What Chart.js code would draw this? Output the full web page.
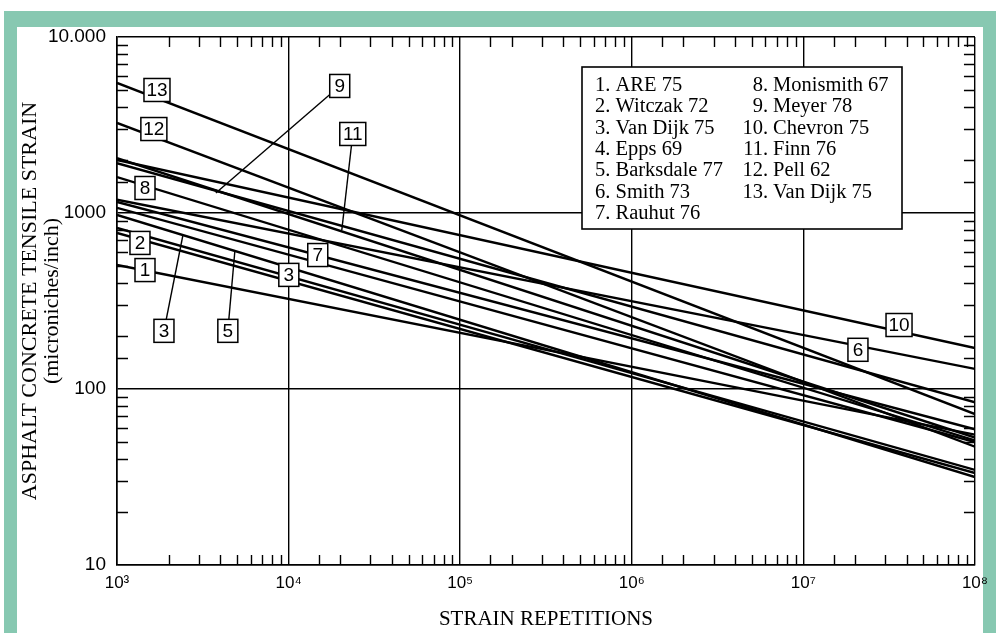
<!DOCTYPE html>
<html lang="en">
<head>
    <meta charset="UTF-8">
    <script src="https://cdn.jsdelivr.net/npm/chart.js"></script>
    <title>Asphalt fatigue curves</title>
    <style>
        body { margin: 0; background: #fff; }
        .frame { position: absolute; left: 4px; top: 11px; right: 0; bottom: 0; width: 992px; height: 622px; background: #87c8b1; }
        .inner { position: absolute; left: 13px; top: 16px; right: 13px; bottom: 0; background: #fff; }
        #fatigueChart { position: absolute; left: 0; top: 0; }
    </style>
</head>
<body>
<div class="frame"><div class="inner"></div></div>
<canvas id="fatigueChart" width="996" height="633"></canvas>

<script>
    // one straight (log-log) line per study, from 10^3 to 10^8 repetitions
    const seriesNames = ['ARE 75', 'Witczak 72', 'Van Dijk 75', 'Epps 69', 'Barksdale 77', 'Smith 73', 'Rauhut 76',
        'Monismith 67', 'Meyer 78', 'Chevron 75', 'Finn 76', 'Pell 62', 'Van Dijk 75'];
    const repetitions = [1e3, 1e8];
    const strainStart = [507, 770, 822, 1070, 975, 1190, 1155, 1600, 2050, 2000, 1920, 3250, 5480];
    const strainEnd = [55, 33.3, 34.7, 50, 31.6, 130, 59, 51, 53, 171, 84, 47, 72];

    const xTickLabels = ['10³', '10⁴', '10⁵', '10⁶', '10⁷', '10⁸'];
    const yTickLabels = ['10', '100', '1000', '10.000'];

    // numbered callouts (data coordinates), leader target where there is one
    const calloutNums = [13, 12, 8, 2, 1, 3, 5, 3, 7, 9, 11, 10, 6];
    const calloutX = [1710, 1640, 1456, 1361, 1456, 1878, 4425, 10030, 14790, 19860, 23660, 3.61e7, 2.08e7];
    const calloutY = [5000, 3000, 1387, 676, 474, 214, 214, 445, 577, 5270, 2812, 231, 167];
    const leaderX = [null, null, null, null, null, 2423, 4863, null, null, 3767, 20420, null, null];
    const leaderY = [null, null, null, null, null, 750, 608, null, null, 1300, 800, null, null];

    const isDecade = v => Math.abs(Math.log10(v) - Math.round(Math.log10(v))) < 1e-6;

    const minorTicks = {
        id: 'minorTicks',
        beforeDatasetsDraw(chart) {
            const {ctx, chartArea: a, scales: {x, y}} = chart;
            ctx.save();
            ctx.strokeStyle = '#000';
            ctx.lineWidth = 1.4;
            ctx.beginPath();
            x.ticks.forEach(t => {
                if (isDecade(t.value)) return;
                const px = Math.round(x.getPixelForValue(t.value)) + 0.5;
                ctx.moveTo(px, a.top); ctx.lineTo(px, a.top + 10);
                ctx.moveTo(px, a.bottom); ctx.lineTo(px, a.bottom - 10);
            });
            y.ticks.forEach(t => {
                if (isDecade(t.value)) return;
                const py = Math.round(y.getPixelForValue(t.value)) + 0.5;
                ctx.moveTo(a.left, py); ctx.lineTo(a.left + 11, py);
                ctx.moveTo(a.right, py); ctx.lineTo(a.right - 11, py);
            });
            ctx.stroke();
            ctx.restore();
        }
    };

    const callouts = {
        id: 'callouts',
        afterDatasetsDraw(chart) {
            const {ctx, chartArea: a, scales: {x, y}} = chart;
            ctx.save();
            ctx.strokeStyle = '#000';
            ctx.fillStyle = '#000';

            // leader lines first, boxes cover their inner part
            ctx.lineWidth = 1.4;
            calloutNums.forEach((n, i) => {
                if (leaderX[i] === null) return;
                ctx.beginPath();
                ctx.moveTo(x.getPixelForValue(calloutX[i]), y.getPixelForValue(calloutY[i]));
                ctx.lineTo(x.getPixelForValue(leaderX[i]), y.getPixelForValue(leaderY[i]));
                ctx.stroke();
            });

            ctx.font = '19px "Liberation Sans", Arial, sans-serif';
            ctx.textAlign = 'center';
            ctx.textBaseline = 'middle';
            calloutNums.forEach((n, i) => {
                const cx = x.getPixelForValue(calloutX[i]);
                const cy = y.getPixelForValue(calloutY[i]);
                const w = n > 9 ? 26 : 20, h = 23;
                ctx.fillStyle = '#fff';
                ctx.fillRect(cx - w / 2, cy - h / 2, w, h);
                ctx.lineWidth = 1.5;
                ctx.strokeRect(cx - w / 2, cy - h / 2, w, h);
                ctx.fillStyle = '#000';
                ctx.fillText(String(n), cx, cy + 1);
            });

            // legend box with two numbered columns
            const lx = a.left + 465, ly = a.top + 30, lw = 320, lh = 162;
            ctx.fillStyle = '#fff';
            ctx.fillRect(lx, ly, lw, lh);
            ctx.lineWidth = 1.6;
            ctx.strokeRect(lx, ly, lw, lh);
            ctx.fillStyle = '#000';
            ctx.font = '20.5px "Liberation Serif", "Times New Roman", serif';
            ctx.textBaseline = 'alphabetic';
            seriesNames.forEach((name, i) => {
                const col = i < 7 ? 0 : 1;
                const row = col ? i - 7 : i;
                const by = ly + 24 + row * 21.33;
                if (col === 0) {
                    ctx.textAlign = 'left';
                    ctx.fillText((i + 1) + '. ' + name, lx + 13, by);
                } else {
                    ctx.textAlign = 'right';
                    ctx.fillText((i + 1) + '.', lx + 186, by);
                    ctx.textAlign = 'left';
                    ctx.fillText(name, lx + 191, by);
                }
            });
            ctx.restore();
        }
    };

    const datasets = seriesNames.map((name, i) => ({
        label: (i + 1) + '. ' + name,
        data: repetitions.map((r, k) => ({x: r, y: k === 0 ? strainStart[i] : strainEnd[i]})),
        borderColor: '#000',
        borderWidth: 2.4,
        pointRadius: 0,
        fill: false
    }));

    const gridColor = c => (c.tick && isDecade(c.tick.value)) ? '#000' : 'rgba(0,0,0,0)';

    new Chart(document.getElementById('fatigueChart'), {
        type: 'line',
        data: {datasets: datasets},
        plugins: [minorTicks, callouts],
        options: {
            responsive: false,
            animation: false,
            layout: {padding: {top: 37, right: 20, left: 0, bottom: 0}},
            plugins: {legend: {display: false}, tooltip: {enabled: false}},
            scales: {
                x: {
                    type: 'logarithmic',
                    min: 1e3,
                    max: 1e8,
                    afterFit: s => { s.height = 68; },
                    grid: {color: gridColor, lineWidth: 1.4, drawTicks: false},
                    border: {display: true, color: '#000', width: 1.6},
                    ticks: {
                        autoSkip: false,
                        maxRotation: 0,
                        padding: 8,
                        color: '#000',
                        font: {size: 17, family: '"Liberation Sans", Arial, sans-serif'},
                        callback: v => isDecade(v) ? xTickLabels[Math.round(Math.log10(v)) - 3] : ''
                    },
                    title: {
                        display: true,
                        text: 'STRAIN REPETITIONS',
                        color: '#000',
                        padding: {top: 0, bottom: 1},
                        font: {size: 21, family: '"Liberation Serif", "Times New Roman", serif'}
                    }
                },
                y: {
                    type: 'logarithmic',
                    min: 10,
                    max: 10000,
                    afterFit: s => { s.width = 117; },
                    grid: {color: gridColor, lineWidth: 1.4, drawTicks: false},
                    border: {display: true, color: '#000', width: 1.6},
                    ticks: {
                        autoSkip: false,
                        padding: 11,
                        color: '#000',
                        font: {size: 19, family: '"Liberation Sans", Arial, sans-serif'},
                        callback: v => isDecade(v) ? yTickLabels[Math.round(Math.log10(v)) - 1] : ''
                    },
                    title: {
                        display: true,
                        text: ['ASPHALT CONCRETE TENSILE STRAIN', '(microniches/inch)'],
                        color: '#000',
                        padding: {top: 19, bottom: 0},
                        font: {size: 22, lineHeight: 1.0, family: '"Liberation Serif", "Times New Roman", serif'}
                    }
                }
            }
        }
    });
</script>
</body>
</html>
